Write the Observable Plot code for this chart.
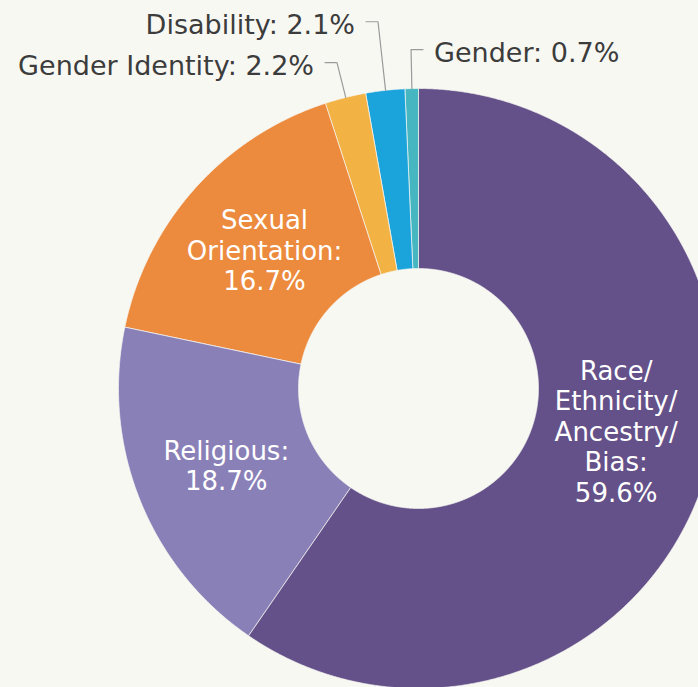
<!DOCTYPE html>
<html><head><meta charset="utf-8">
<script src="https://cdn.jsdelivr.net/npm/d3@7"></script>
<script src="https://cdn.jsdelivr.net/npm/@observablehq/plot@0.6"></script>
<style>
html,body{margin:0;padding:0;background:#f8f8f3;}
</style></head><body><div id="chart"></div>
<script>
// ---- data ----
const categories = ["Race/Ethnicity/Ancestry/Bias", "Religious", "Sexual Orientation", "Gender Identity", "Disability", "Gender"];
const values = [59.6, 18.7, 16.7, 2.2, 2.1, 0.7];
const labels = ["Race/\nEthnicity/\nAncestry/\nBias:\n59.6%", "Religious:\n18.7%", "Sexual\nOrientation:\n16.7%", "Gender Identity: 2.2%", "Disability: 2.1%", "Gender: 0.7%"];
const colors = ["#645189", "#8a80b8", "#ec8a3e", "#f2b244", "#1ba3dc", "#46b7c0"];

// ---- layout ----
const W = 698, H = 687, CX = 418, CY = 388, R = 300;
const innerR = 0.4;
const insideR = 0.69;
const insideDy = {0: -19};
const outside = {3: {r: 1.12, side: -1}, 4: {r: 1.23, side: -1}, 5: {r: 1.13, side: 1}};
const segPx = 12, gapPx = 11;
const bg = "#f8f8f3";

const arcs = d3.pie().sort(null).value(d => d)(values);
const pt = (a, r) => [r * Math.sin(a), r * Math.cos(a)];

const poly = [];
arcs.forEach((a, i) => {
  const n = Math.max(3, Math.ceil((a.endAngle - a.startAngle) / 0.004));
  for (let k = 0; k <= n; k++) {
    const t = a.startAngle + (a.endAngle - a.startAngle) * k / n;
    const [x, y] = pt(t, 1); poly.push({cat: categories[i], x, y});
  }
  for (let k = n; k >= 0; k--) {
    const t = a.startAngle + (a.endAngle - a.startAngle) * k / n;
    const [x, y] = pt(t, innerR); poly.push({cat: categories[i], x, y});
  }
});

const inside = [];
const leaders = [];
const outsideText = [];
arcs.forEach((a, i) => {
  const mid = (a.startAngle + a.endAngle) / 2;
  if (outside[i]) {
    const o = outside[i];
    const [ex, ey] = pt(mid, 1);
    const [bx, by] = pt(mid, o.r);
    leaders.push({cat: categories[i], x: ex, y: ey});
    leaders.push({cat: categories[i], x: bx, y: by});
    leaders.push({cat: categories[i], x: bx + o.side * segPx / R, y: by});
    outsideText.push({text: labels[i], x: bx + o.side * (segPx + gapPx) / R, y: by, anchor: o.side < 0 ? "end" : "start"});
  } else {
    const [x, y] = pt(mid, insideR);
    inside.push({text: labels[i], x, y: y - (insideDy[i] || 0) / R});
  }
});

const chart = Plot.plot({
  width: W, height: H, margin: 0,
  style: {background: bg, fontFamily: "DejaVu Sans"},
  x: {domain: [-CX / R, (W - CX) / R], axis: null},
  y: {domain: [-(H - CY) / R, CY / R], axis: null},
  color: {domain: categories, range: colors},
  marks: [
    Plot.line(poly, {x: "x", y: "y", z: "cat", fill: "cat", stroke: bg, strokeWidth: 0.7, curve: "linear-closed"}),
    Plot.line(leaders, {x: "x", y: "y", z: "cat", stroke: "#9a9a9a", strokeWidth: 1.2}),
    Plot.text(inside, {x: "x", y: "y", text: "text", fill: "white", fontSize: 26, lineHeight: 1.17, textAnchor: "middle"}),
    Plot.text(outsideText.filter(d => d.anchor === "end"), {x: "x", y: "y", dy: 4, text: "text", fill: "#3c3c3c", fontSize: 27, textAnchor: "end"}),
    Plot.text(outsideText.filter(d => d.anchor === "start"), {x: "x", y: "y", dy: 4, text: "text", fill: "#3c3c3c", fontSize: 27, textAnchor: "start"})
  ]
});
document.getElementById("chart").appendChild(chart);
</script></body></html>
